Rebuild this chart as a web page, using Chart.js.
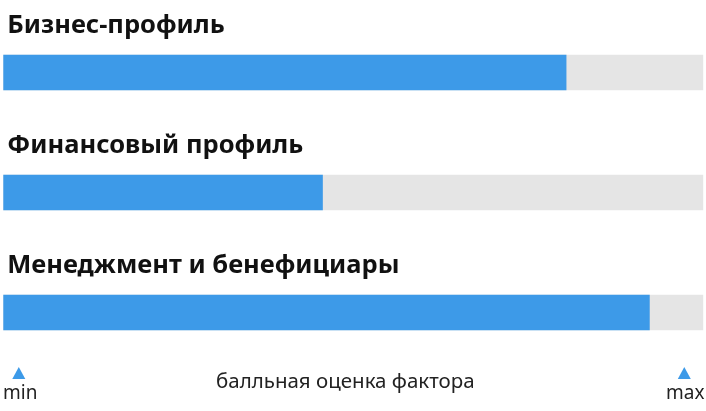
<!DOCTYPE html>
<html lang="ru">
<head>
<meta charset="utf-8">
<title>Факторы</title>
<script src="https://cdn.jsdelivr.net/npm/chart.js@4.4.1/dist/chart.umd.min.js"></script>
<style>
  html, body { margin: 0; padding: 0; background: #fff; }
  #wrap { width: 706px; height: 411px; position: relative; }
</style>
</head>
<body>
<div id="wrap"><canvas id="grafico"></canvas></div>
<script>
const categories = ['Бизнес-профиль', 'Финансовый профиль', 'Менеджмент и бенефициары'];
const scores = [80.4, 45.6, 92.3];
const scaleMin = 0;
const scaleMax = 100;
const axisLabels = ['min', 'балльная оценка фактора', 'max'];

const blue = '#3d9ae8';
const grey = '#e5e5e5';

// Titles above each bar + min/max legend at the bottom
const labelsPlugin = {
  id: 'labels',
  afterDraw(chart) {
    const ctx = chart.ctx;
    const x = chart.scales.x;
    const y = chart.scales.y;
    const area = chart.chartArea;
    ctx.save();

    ctx.fillStyle = '#111';
    ctx.font = 'bold 25.5px "Noto Sans"';
    ctx.textAlign = 'left';
    ctx.textBaseline = 'alphabetic';
    categories.forEach((c, i) => {
      ctx.fillText(c, x.getPixelForValue(scaleMin) + 4, y.getPixelForValue(i) - 39.5);
    });

    // triangles
    const tri = (cx) => {
      ctx.beginPath();
      ctx.moveTo(cx - 6.5, 379);
      ctx.lineTo(cx + 6.5, 379);
      ctx.lineTo(cx, 367);
      ctx.closePath();
      ctx.fill();
    };
    ctx.fillStyle = blue;
    tri(area.left + 15.5);
    tri(area.right - 19);

    ctx.fillStyle = '#222';
    ctx.textAlign = 'center';
    ctx.font = '19px "Noto Sans"';
    ctx.fillText(axisLabels[0], area.left + 17, 399);
    ctx.fillText(axisLabels[2], area.right - 18, 399);
    ctx.font = '20.5px "Noto Sans"';
    ctx.fillText(axisLabels[1], (area.left + area.right) / 2 - 8, 388);
    ctx.restore();
  }
};

new Chart(document.getElementById('grafico').getContext('2d'), {
  type: 'bar',
  data: {
    labels: categories,
    datasets: [
      {
        label: 'Оценка',
        data: scores,
        backgroundColor: blue,
        barThickness: 35,
        grouped: false,
        order: 0
      },
      {
        label: 'Шкала',
        data: categories.map(() => scaleMax),
        backgroundColor: grey,
        barThickness: 35,
        grouped: false,
        order: 1
      }
    ]
  },
  options: {
    indexAxis: 'y',
    responsive: true,
    maintainAspectRatio: false,
    animation: false,
    layout: {
      padding: { left: 3.3, right: 2.7, top: 12.5, bottom: 38.5 }
    },
    scales: {
      x: { display: false, min: scaleMin, max: scaleMax },
      y: { display: false }
    },
    plugins: {
      legend: { display: false },
      tooltip: { enabled: false }
    }
  },
  plugins: [labelsPlugin]
});
</script>
</body>
</html>
